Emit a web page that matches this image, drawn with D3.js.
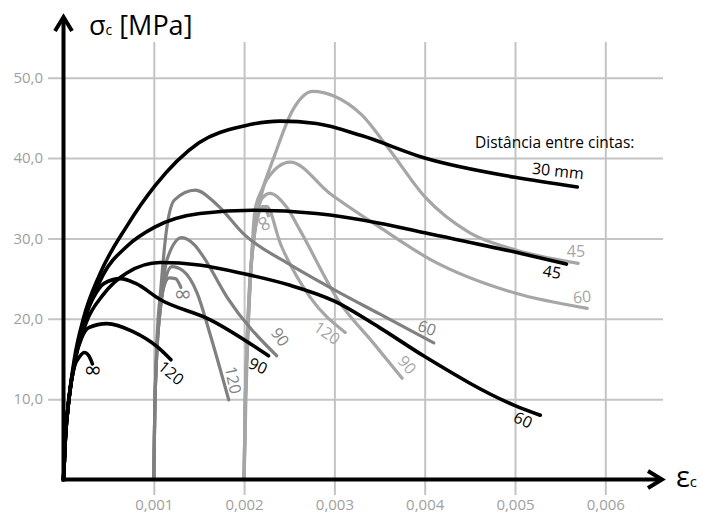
<!DOCTYPE html>
<html>
<head>
<meta charset="utf-8">
<script src="https://cdn.jsdelivr.net/npm/d3@7"></script>
<style>
  body { margin: 0; background: #fff; }
  svg { display: block; font-family: "Open Sans", sans-serif; }
  .inf { font-family: "DejaVu Sans", sans-serif; font-size: 22px; }
</style>
</head>
<body>
<svg width="703" height="514"></svg>
<script>
// tick values
var xTicks = [0.001, 0.002, 0.003, 0.004, 0.005, 0.006];
var yTicks = [10, 20, 30, 40, 50];

// black curves (start at 0)
var black30 = [[0,0],[0.00002,5],[0.00006,10],[0.00012,15],[0.00022,20],[0.0004,25.5],[0.0007,31.5],[0.00101,36.5],[0.0015,41.9],[0.002,44.0],[0.0024,44.6],[0.0028,44.3],[0.0033,42.8],[0.004,40.0],[0.005,37.6],[0.00569,36.4]];
var black45 = [[0,0],[0.00002,5],[0.00006,10],[0.00013,15],[0.00024,20],[0.00044,25.5],[0.0007,29],[0.00101,31.4],[0.00151,33.1],[0.0021,33.5],[0.0028,33.1],[0.0035,31.9],[0.004,30.7],[0.005,28.3],[0.00557,26.8]];
var black60 = [[0,0],[0.00002,5],[0.00006,10],[0.00013,15],[0.00025,19.5],[0.00044,23],[0.0007,25.7],[0.00107,27],[0.0015,26.7],[0.002,25.6],[0.0025,24.2],[0.003,22.2],[0.0035,18.9],[0.004,15.3],[0.005,9.2],[0.00528,8.0]];
var black90 = [[0,0],[0.00002,5],[0.00006,10],[0.00013,15],[0.00023,20],[0.00033,22.6],[0.00045,24.4],[0.00063,25.0],[0.0008,24.4],[0.00107,22.4],[0.00162,19.9],[0.00227,15.4]];
var black120 = [[0,0],[0.00002,5],[0.00006,10],[0.00013,15],[0.0002,17.6],[0.00028,18.9],[0.00048,19.4],[0.00077,18.4],[0.00104,16.5],[0.00119,14.9]];
var blackInf = [[0,0],[0.00002,5],[0.00006,10],[0.00012,14],[0.00018,15.3],[0.00023,15.8],[0.00028,15.4],[0.00032,14.4]];

// dark grey curves (start at 0,001)
var dark60 = [[0.001,0],[0.00101,8],[0.00103,16],[0.00108,24],[0.00114,31],[0.00123,34.8],[0.00146,36],[0.0017,34.2],[0.002,30.5],[0.0025,26.8],[0.003,23.6],[0.0035,20.6],[0.0041,17]];
var dark90 = [[0.001,0],[0.00101,8],[0.00103,15],[0.00108,22],[0.00115,27.5],[0.00131,30.1],[0.00145,29.2],[0.00155,27.7],[0.00181,22.7],[0.00236,15.4]];
var dark120 = [[0.001,0],[0.00101,8],[0.00103,15],[0.00107,21],[0.00113,25],[0.0012,26.5],[0.00132,26],[0.00148,23.2],[0.00162,18.2],[0.00183,9.9]];
var darkInf = [[0.001,0],[0.00101,8],[0.00103,15],[0.00106,20],[0.0011,23.5],[0.00117,25.1],[0.00124,25.0],[0.0013,23.9]];

// light grey curves (start at 0,002)
var light45 = [[0.002,0],[0.00202,10],[0.00205,20],[0.00208,27],[0.00212,33.5],[0.00221,36.4],[0.00232,39.8],[0.00254,46],[0.00276,48.3],[0.003,47.7],[0.0033,45.4],[0.0036,41.2],[0.004,35.2],[0.0045,30.7],[0.005,28.6],[0.0057,26.9]];
var light60 = [[0.002,0],[0.00201,8],[0.00204,18],[0.00208,27],[0.00215,33],[0.00225,37.3],[0.00251,39.5],[0.00295,35.6],[0.0035,31.4],[0.00406,27.4],[0.005,23.2],[0.0058,21.3]];
var light90 = [[0.002,0],[0.00201,8],[0.00203,16],[0.00207,25],[0.00213,32],[0.0022,35],[0.00229,35.6],[0.00247,33.9],[0.00262,31],[0.00306,22],[0.00343,17],[0.00375,12.6]];
var light120 = [[0.002,0],[0.00201,8],[0.00203,16],[0.00206,24],[0.00211,30],[0.00218,33.6],[0.00225,34],[0.0024,29.4],[0.00273,22.7],[0.00312,18.3]];
var lightInf = [[0.002,0],[0.00201,8],[0.00203,16],[0.00206,24],[0.0021,29.5],[0.00216,33],[0.00221,34],[0.00225,33.4],[0.00227,32.8]];

var lightColor = "#a6a6a6";
var darkColor = "#808080";

var svg = d3.select("svg");

var xScale = d3.scaleLinear().domain([0, 0.006]).range([63.5, 605.3]);
var yScale = d3.scaleLinear().domain([0, 50]).range([479.5, 77.7]);

// grid
var xGrid = d3.axisBottom(xScale).tickValues(xTicks).tickSize(453).tickPadding(4)
  .tickFormat(function(d) { return d3.format(".3f")(d).replace(".", ","); });
svg.append("g")
  .attr("transform", "translate(0,42)")
  .call(xGrid)
  .call(function(g) { g.select(".domain").remove(); });

var yGrid = d3.axisLeft(yScale).tickValues(yTicks).tickSize(-615).tickPadding(5)
  .tickFormat(function(d) { return d3.format(".1f")(d).replace(".", ","); });
svg.append("g")
  .attr("transform", "translate(48,0)")
  .call(yGrid)
  .call(function(g) { g.select(".domain").remove(); });

svg.selectAll(".tick line").attr("stroke", "#c4c4c4").attr("stroke-width", 2);
svg.selectAll(".tick text")
  .attr("fill", "#a0a0a0")
  .style("font-family", "'Open Sans', sans-serif")
  .style("font-size", "15px");

// curves
var line = d3.line()
  .x(function(d) { return xScale(d[0]); })
  .y(function(d) { return yScale(d[1]); })
  .curve(d3.curveMonotoneX);

var curves = [
  { data: light45, color: lightColor, w: 3.2 },
  { data: light60, color: lightColor, w: 3.2 },
  { data: light90, color: lightColor, w: 3.2 },
  { data: light120, color: lightColor, w: 3.2 },
  { data: lightInf, color: lightColor, w: 3.2 },
  { data: dark60, color: darkColor, w: 3.2 },
  { data: dark90, color: darkColor, w: 3.2 },
  { data: dark120, color: darkColor, w: 3.2 },
  { data: darkInf, color: darkColor, w: 3.2 },
  { data: black30, color: "#000", w: 3.6 },
  { data: black45, color: "#000", w: 3.6 },
  { data: black60, color: "#000", w: 3.6 },
  { data: black90, color: "#000", w: 3.6 },
  { data: black120, color: "#000", w: 3.6 },
  { data: blackInf, color: "#000", w: 3.6 }
];

svg.append("g")
  .selectAll("path")
  .data(curves)
  .enter()
  .append("path")
  .attr("d", function(d) { return line(d.data); })
  .attr("fill", "none")
  .attr("stroke", function(d) { return d.color; })
  .attr("stroke-width", function(d) { return d.w; })
  .attr("stroke-linecap", "round");

// curve labels: text, x, y, rotation, colour
var labels = [
  ["30 mm", 558, 171, 6, "#000"],
  ["45", 576, 251, 0, lightColor],
  ["45", 552, 272, 10, "#000"],
  ["60", 582, 297, -5, lightColor],
  ["60", 427, 328, 20, darkColor],
  ["90", 407, 365, 50, lightColor],
  ["60", 523, 420, 25, "#000"],
  ["120", 327, 333, 35, lightColor],
  ["90", 280, 337, 55, darkColor],
  ["90", 258, 366, 25, "#000"],
  ["120", 233, 380, 78, darkColor],
  ["\u221e", 265, 223, 60, lightColor],
  ["\u221e", 183, 293, 0, darkColor],
  ["120", 171, 373, 40, "#000"],
  ["\u221e", 93, 369, 0, "#000"]
];

svg.append("g")
  .selectAll("text")
  .data(labels)
  .enter()
  .append("text")
  .attr("class", function(d) { return d[0] === "\u221e" ? "inf" : null; })
  .attr("transform", function(d) { return "translate(" + d[1] + "," + d[2] + ") rotate(" + d[3] + ")"; })
  .attr("text-anchor", "middle")
  .attr("dy", "0.35em")
  .attr("fill", function(d) { return d[4]; })
  .style("font-size", function(d) { return d[0] === "\u221e" ? null : "16px"; })
  .text(function(d) { return d[0]; });

svg.append("text")
  .attr("x", 475)
  .attr("y", 148)
  .style("font-size", "15.5px")
  .text("Distância entre cintas:");

// axes with open arrow heads
var axes = svg.append("g")
  .attr("fill", "none")
  .attr("stroke", "#000")
  .attr("stroke-width", 4);
axes.append("path").attr("d", "M63.5,481.5V17");
axes.append("path").attr("d", "M61.5,479.5H662");
axes.append("path").attr("d", "M55,31L63.5,17L72,31").attr("stroke-linejoin", "miter");
axes.append("path").attr("d", "M648,471L662,479.5L648,488").attr("stroke-linejoin", "miter");

// axis titles
var yTitle = svg.append("text").attr("x", 89).attr("y", 35).style("font-size", "27px");
yTitle.append("tspan").text("\u03c3");
yTitle.append("tspan").style("font-size", "14px").text("c");
yTitle.append("tspan").text(" [MPa]");

var xTitle = svg.append("text").attr("x", 676).attr("y", 487).style("font-size", "29px");
xTitle.append("tspan").text("\u03b5");
xTitle.append("tspan").style("font-size", "15px").text("c");
</script>
</body>
</html>
